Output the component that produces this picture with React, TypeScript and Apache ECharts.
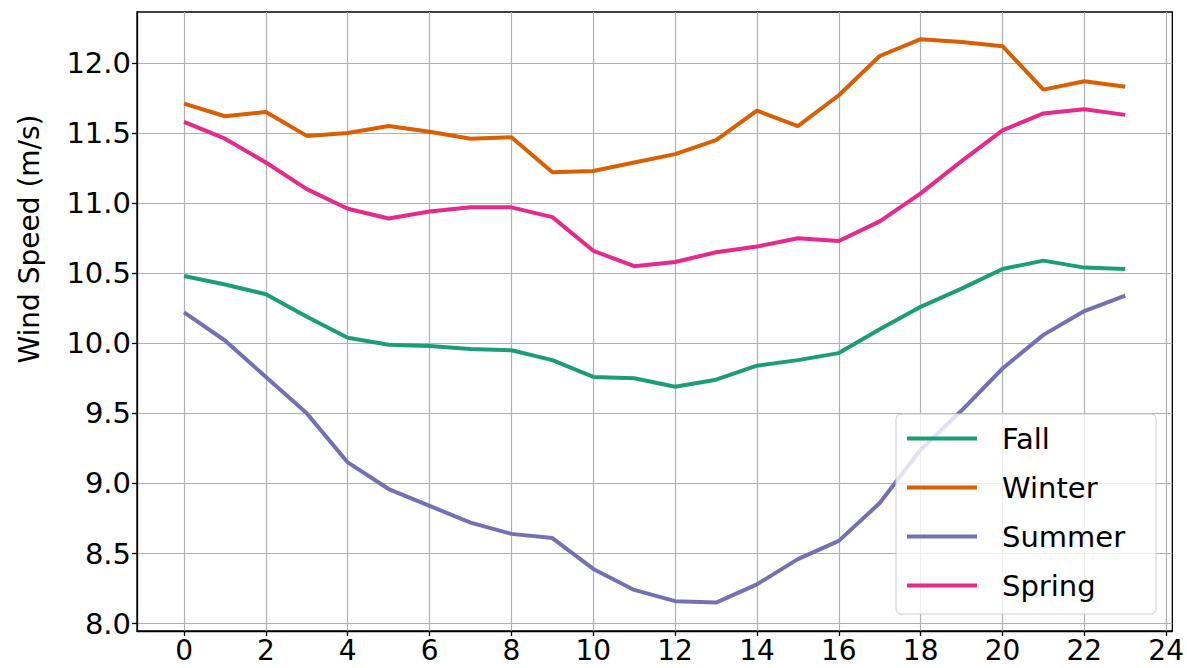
import React, { useEffect, useRef } from "react";
import * as echarts from "echarts";

const hours = [0, 1, 2, 3, 4, 5, 6, 7, 8, 9, 10, 11, 12, 13, 14, 15, 16, 17, 18, 19, 20, 21, 22, 23];
const xTicks = [0, 2, 4, 6, 8, 10, 12, 14, 16, 18, 20, 22, 24];
const yTicks = [8.0, 8.5, 9.0, 9.5, 10.0, 10.5, 11.0, 11.5, 12.0];

const fall = [10.48, 10.42, 10.35, 10.19, 10.04, 9.99, 9.98, 9.96, 9.95, 9.88, 9.76, 9.75, 9.69, 9.74, 9.84, 9.88, 9.93, 10.10, 10.26, 10.39, 10.53, 10.59, 10.54, 10.53];
const winter = [11.71, 11.62, 11.65, 11.48, 11.50, 11.55, 11.51, 11.46, 11.47, 11.22, 11.23, 11.29, 11.35, 11.45, 11.66, 11.55, 11.77, 12.05, 12.17, 12.15, 12.12, 11.81, 11.87, 11.83];
const summer = [10.22, 10.02, 9.76, 9.50, 9.15, 8.96, 8.84, 8.72, 8.64, 8.61, 8.39, 8.24, 8.16, 8.15, 8.28, 8.46, 8.59, 8.86, 9.24, 9.52, 9.82, 10.06, 10.23, 10.34];
const spring = [11.58, 11.46, 11.29, 11.10, 10.96, 10.89, 10.94, 10.97, 10.97, 10.90, 10.66, 10.55, 10.58, 10.65, 10.69, 10.75, 10.73, 10.87, 11.07, 11.30, 11.52, 11.64, 11.67, 11.63];

const seriesNames = ["Fall", "Winter", "Summer", "Spring"];
const seriesData = [fall, winter, summer, spring];
const colors = ["#1b9e77", "#d95f02", "#7570b3", "#e7298a"];

const FONT = "DejaVu Sans";

export default function App() {
  const ref = useRef<HTMLDivElement>(null);
  useEffect(() => {
    if (!ref.current) return;
    const chart = echarts.init(ref.current, undefined, { renderer: "svg" });
    chart.setOption({
      animation: false,
      backgroundColor: "#ffffff",
      grid: {
        left: 137,
        top: 12,
        right: 14,
        bottom: 37,
        show: true,
        borderColor: "#000",
        borderWidth: 1.3,
        backgroundColor: "transparent",
      },
      xAxis: {
        type: "value",
        min: -1.15,
        max: 24.15,
        splitNumber: 12,
        axisLine: { show: true, onZero: false, lineStyle: { color: "#000", width: 1.3 } },
        axisTick: { show: true, length: 5, customValues: xTicks, lineStyle: { color: "#000", width: 1.3 } },
        axisLabel: {
          customValues: xTicks,
          fontFamily: FONT,
          fontSize: 28,
          lineHeight: 22,
          color: "#000",
          margin: 8.5,
        },
        splitLine: { show: true, lineStyle: { color: "#b0b0b0", width: 1.2 } },
      },
      yAxis: {
        type: "value",
        min: 7.947,
        max: 12.364,
        splitNumber: 9,
        axisLine: { show: true, onZero: false, lineStyle: { color: "#000", width: 1.3 } },
        axisTick: { show: true, length: 5, customValues: yTicks, lineStyle: { color: "#000", width: 1.3 } },
        axisLabel: {
          customValues: yTicks,
          fontFamily: FONT,
          fontSize: 29,
          color: "#000",
          margin: 6,
          formatter: (v: number) => v.toFixed(1),
        },
        splitLine: { show: true, lineStyle: { color: "#b0b0b0", width: 1.2 } },
      },
      legend: {
        orient: "vertical",
        left: 896,
        top: 414,
        data: seriesNames,
        icon: "rect",
        itemWidth: 70,
        itemHeight: 4,
        itemGap: 20,
        padding: [10, 31, 14, 11],
        backgroundColor: "rgba(255,255,255,0.8)",
        borderColor: "#cccccc",
        borderWidth: 1,
        borderRadius: 5,
        textStyle: {
          fontFamily: FONT,
          fontSize: 29,
          color: "#000",
          lineHeight: 28,
          padding: [0, 0, 0, 20],
        },
      },
      graphic: [
        {
          type: "text",
          x: 29,
          y: 239,
          rotation: Math.PI / 2,
          style: {
            text: "Wind Speed (m/s)",
            fontFamily: FONT,
            fontSize: 28,
            fill: "#000",
            textAlign: "center",
            textVerticalAlign: "middle",
          },
        },
      ],
      series: seriesNames.map((name, i) => ({
        name,
        type: "line",
        data: hours.map((h, j) => [h, seriesData[i][j]]),
        symbol: "none",
        color: colors[i],
        lineStyle: { color: colors[i], width: 4 },
        itemStyle: { color: colors[i] },
      })),
    });
    return () => chart.dispose();
  }, []);
  return (
    <div
      ref={ref}
      style={{ position: "fixed", left: 0, top: 0, width: 1187, height: 668, background: "#fff" }}
    />
  );
}
